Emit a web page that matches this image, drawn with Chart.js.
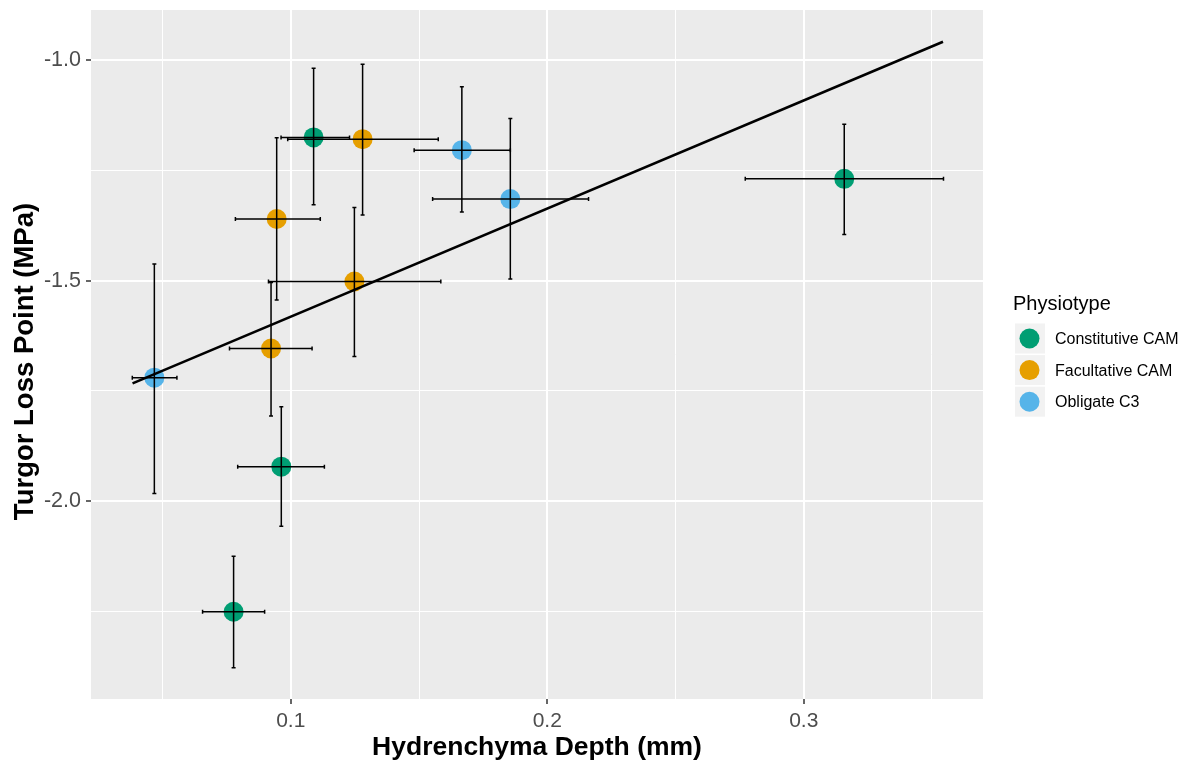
<!DOCTYPE html>
<html>
<head>
<meta charset="utf-8">
<script src="https://cdn.jsdelivr.net/npm/chart.js@4"></script>
<style>
  body{margin:0;background:#fff;}
  #wrap{width:1190px;height:767px;}
</style>
</head>
<body>
<div id="wrap"><canvas id="tlpChart" width="1190" height="767"></canvas></div>
<script>
// ================= DATA =================
const physiotypes = ["Constitutive CAM","Facultative CAM","Obligate C3"];
const physioColors = ["#009E73","#E69F00","#56B4E9"];

// one entry per species mean
const pointGroup = [0,1,1,1,1,2,0,0,2,2,0];
const depth      = [0.1089,0.1280,0.0945,0.1248,0.0923,0.0468,0.0963,0.0777,0.1667,0.1856,0.3158];
const depthLow   = [0.0962,0.0988,0.0784,0.0913,0.0761,0.0382,0.0793,0.0656,0.1481,0.1553,0.2772];
const depthHigh  = [0.1229,0.1575,0.1115,0.1585,0.1083,0.0556,0.1131,0.0898,0.1856,0.2161,0.3545];
const tlp        = [-1.175,-1.179,-1.360,-1.502,-1.654,-1.720,-1.922,-2.251,-1.204,-1.315,-1.269];
const tlpLow     = [-1.328,-1.351,-1.544,-1.672,-1.807,-1.983,-2.057,-2.378,-1.344,-1.496,-1.395];
const tlpHigh    = [-1.018,-1.009,-1.176,-1.334,-1.504,-1.462,-1.786,-2.125,-1.060,-1.132,-1.145];

// fitted line (lm) ends
const fitX = [0.0383,0.3543];
const fitY = [-1.733,-0.958];

// ticks
const xMajor = [0.1,0.2,0.3];
const xMinor = [0.05,0.15,0.25,0.35];
const xLabels = ["0.1","0.2","0.3"];
const yMajor = [-1.0,-1.5,-2.0];
const yMinor = [-1.25,-1.75,-2.25];
const yLabels = ["-1.0","-1.5","-2.0"];

const FONT = "'Liberation Sans', Arial, sans-serif";

// ================= HELPERS =================
function isMajor(v, arr){ return arr.some(m=>Math.abs(m-v)<1e-9); }
function labelFor(v, arr, labels){
  const i = arr.findIndex(m=>Math.abs(m-v)<1e-9);
  return i<0 ? "" : labels[i];
}

// ================= DATASETS =================
const datasets = [{
  type:"line",
  label:"fit",
  data:fitX.map((x,i)=>({x:x,y:fitY[i]})),
  borderColor:"#000",
  borderWidth:2.6,
  pointRadius:0,
  fill:false,
  order:0
}];
physiotypes.forEach((name,g)=>{
  const pts=[];
  pointGroup.forEach((pg,i)=>{ if(pg===g) pts.push({x:depth[i],y:tlp[i]}); });
  datasets.push({
    type:"scatter",
    label:name,
    data:pts,
    backgroundColor:physioColors[g],
    borderWidth:0,
    pointRadius:10,
    order:1
  });
});

// ================= PLUGINS =================
const panelBg = {
  id:"panelBg",
  beforeDraw(chart){
    const {ctx, chartArea:a} = chart;
    ctx.save();
    ctx.fillStyle="#EBEBEB";
    ctx.fillRect(a.left,a.top,a.right-a.left,a.bottom-a.top);
    ctx.restore();
  }
};

const errorBars = {
  id:"errorBars",
  afterDatasetsDraw(chart){
    const {ctx, scales:{x,y}} = chart;
    const cap = 2;
    ctx.save();
    ctx.strokeStyle="#000";
    ctx.lineWidth=1.5;
    depth.forEach((d,i)=>{
      const px=x.getPixelForValue(d), py=y.getPixelForValue(tlp[i]);
      const x0=x.getPixelForValue(depthLow[i]), x1=x.getPixelForValue(depthHigh[i]);
      const y0=y.getPixelForValue(tlpLow[i]), y1=y.getPixelForValue(tlpHigh[i]);
      ctx.beginPath();
      // horizontal
      ctx.moveTo(x0,py); ctx.lineTo(x1,py);
      ctx.moveTo(x0,py-cap); ctx.lineTo(x0,py+cap);
      ctx.moveTo(x1,py-cap); ctx.lineTo(x1,py+cap);
      // vertical
      ctx.moveTo(px,y0); ctx.lineTo(px,y1);
      ctx.moveTo(px-cap,y0); ctx.lineTo(px+cap,y0);
      ctx.moveTo(px-cap,y1); ctx.lineTo(px+cap,y1);
      ctx.stroke();
    });
    ctx.restore();
  }
};

const titlesAndLegend = {
  id:"titlesAndLegend",
  afterDraw(chart){
    const {ctx, chartArea:a} = chart;
    ctx.save();
    // axis titles
    ctx.fillStyle="#000";
    ctx.textAlign="center";
    ctx.textBaseline="middle";
    ctx.font="bold 26.5px "+FONT;
    ctx.fillText("Hydrenchyma Depth (mm)", (a.left+a.right)/2, 748);
    ctx.save();
    ctx.font="bold 27.5px "+FONT;
    ctx.translate(25,361.5);
    ctx.rotate(-Math.PI/2);
    ctx.fillText("Turgor Loss Point (MPa)",0,0);
    ctx.restore();

    // legend
    ctx.textAlign="left";
    ctx.font="20px "+FONT;
    ctx.fillStyle="#000";
    ctx.fillText("Physiotype",1013,304);
    ctx.font="16px "+FONT;
    physiotypes.forEach((name,g)=>{
      const cy = 338.5 + g*31.6;
      ctx.fillStyle="#F2F2F2";
      ctx.fillRect(1015,cy-15,30,30);
      ctx.fillStyle=physioColors[g];
      ctx.beginPath();
      ctx.arc(1029.5,cy,10,0,Math.PI*2);
      ctx.fill();
      ctx.fillStyle="#000";
      ctx.fillText(name,1055,cy+1);
    });
    ctx.restore();
  }
};

// ================= CHART =================
new Chart(document.getElementById("tlpChart"),{
  data:{datasets:datasets},
  options:{
    responsive:false,
    animation:false,
    events:[],
    layout:{padding:{top:10,right:207,left:0,bottom:0}},
    plugins:{legend:{display:false},tooltip:{enabled:false}},
    scales:{
      x:{
        type:"linear",
        min:0.0221,
        max:0.3699,
        afterBuildTicks(s){ s.ticks = xMinor.concat(xMajor).sort((a,b)=>a-b).map(v=>({value:v})); },
        afterFit(s){ s.height = 68; s.paddingLeft = 0; s.paddingRight = 0; },
        border:{display:false},
        grid:{
          color:"#FFFFFF",
          lineWidth:c=>isMajor(c.tick.value,xMajor)?2:1,
          tickLength:5,
          tickColor:c=>isMajor(c.tick.value,xMajor)?"#333333":"rgba(0,0,0,0)",
          tickWidth:1.5
        },
        ticks:{
          autoSkip:false,
          maxRotation:0,
          padding:5,
          color:"#4D4D4D",
          font:{family:FONT,size:21},
          callback:v=>labelFor(v,xMajor,xLabels)
        }
      },
      y:{
        type:"linear",
        min:-2.449,
        max:-0.886,
        afterBuildTicks(s){ s.ticks = yMinor.concat(yMajor).sort((a,b)=>a-b).map(v=>({value:v})); },
        afterFit(s){ s.width = 91; s.paddingTop = 0; s.paddingBottom = 0; },
        border:{display:false},
        grid:{
          color:"#FFFFFF",
          lineWidth:c=>isMajor(c.tick.value,yMajor)?2:1,
          tickLength:5,
          tickColor:c=>isMajor(c.tick.value,yMajor)?"#333333":"rgba(0,0,0,0)",
          tickWidth:1.5
        },
        ticks:{
          autoSkip:false,
          padding:5,
          color:"#4D4D4D",
          font:{family:FONT,size:21.5},
          callback:v=>labelFor(v,yMajor,yLabels)
        }
      }
    }
  },
  plugins:[panelBg,errorBars,titlesAndLegend]
});
</script>
</body>
</html>
